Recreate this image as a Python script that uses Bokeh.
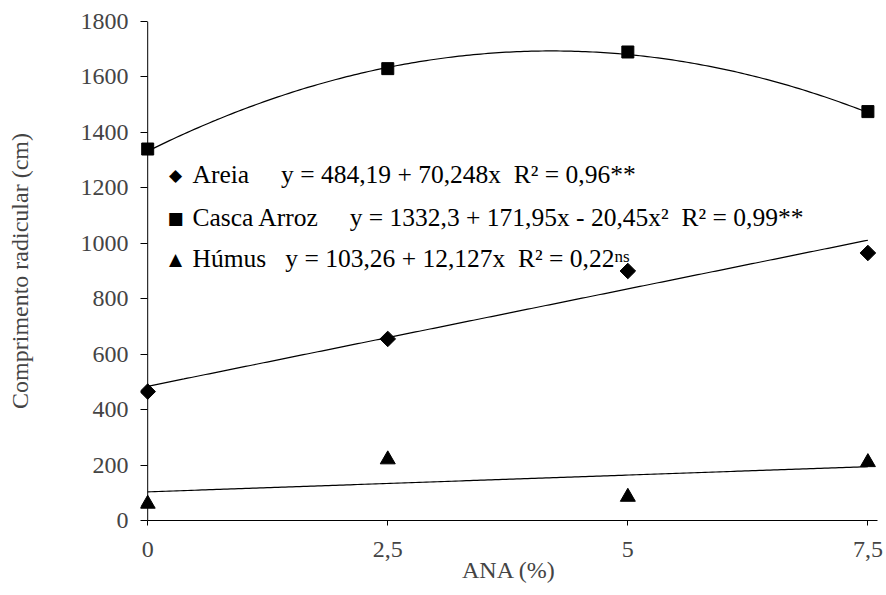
import numpy as np
from bokeh.plotting import figure
from bokeh.models import Range1d, FixedTicker, Span, Label
from bokeh.embed import file_html
from bokeh.resources import INLINE

# ---- data ----
ana_doses = [0, 2.5, 5, 7.5]
x_tick_labels = ["0", "2,5", "5", "7,5"]
y_ticks = [0, 200, 400, 600, 800, 1000, 1200, 1400, 1600, 1800]

areia = [465, 655, 900, 965]
casca_arroz = [1340, 1630, 1690, 1475]
humus = [60, 220, 85, 210]

# regression coefficients printed on the chart
areia_coef = [484.19, 70.248]
casca_coef = [1332.3, 171.95, -20.45]
humus_coef = [103.26, 12.127]

NB = "\u00a0"
legend_symbols = ["\u25c6", "\u25a0", "\u25b2"]
legend_texts = [
    "Areia" + NB * 5 + "y = 484,19 + 70,248x" + NB * 2 + "R² = 0,96**",
    "Casca Arroz" + NB * 5 + "y = 1332,3 + 171,95x - 20,45x²" + NB * 2 + "R² = 0,99**",
    "Húmus" + NB * 3 + "y = 103,26 + 12,127x" + NB * 2 + "R² = 0,22",
]

FONT = "Liberation Serif"

p = figure(width=886, height=595,
           x_range=Range1d(-0.075, 7.6), y_range=Range1d(0, 1800),
           output_backend="svg", toolbar_location=None,
           min_border_left=140, min_border_right=9,
           min_border_top=21, min_border_bottom=75)
p.grid.visible = False
p.outline_line_color = None

# x axis
xa = p.xaxis[0]
xa.ticker = FixedTicker(ticks=ana_doses)
xa.major_label_overrides = {t: s for t, s in zip(ana_doses, x_tick_labels)}
xa.minor_tick_line_color = None
xa.major_tick_out = 5
xa.major_tick_in = 0
xa.major_label_standoff = 16
xa.bounds = (0, 7.6)
xa.axis_label = "ANA (%)"
xa.axis_label_standoff = -3
xa.axis_label_text_font = FONT
xa.axis_label_text_font_style = "normal"
xa.axis_label_text_font_size = "24px"
xa.major_label_text_font = FONT
xa.major_label_text_font_size = "24px"
xa.axis_line_color = "black"
xa.major_tick_line_color = "black"

# y axis
ya = p.yaxis[0]
ya.ticker = FixedTicker(ticks=y_ticks)
ya.minor_tick_line_color = None
ya.axis_line_color = None
ya.major_tick_in = 7
ya.major_tick_out = 0
ya.major_label_standoff = 12
ya.axis_label = "Comprimento radicular (cm)"
ya.axis_label_standoff = 45
ya.axis_label_text_font = FONT
ya.axis_label_text_font_style = "normal"
ya.axis_label_text_font_size = "24px"
ya.major_label_text_font = FONT
ya.major_label_text_font_size = "24px"
ya.major_tick_line_color = "black"

p.add_layout(Span(location=0, dimension="height", line_color="black", line_width=1))

# trend lines from printed equations
xs = np.linspace(0, 7.5, 200)
p.line(xs, np.polyval(areia_coef[::-1], xs), line_color="black", line_width=1.2)
p.line(xs, np.polyval(casca_coef[::-1], xs), line_color="black", line_width=1.2)
p.line(xs, np.polyval(humus_coef[::-1], xs), line_color="black", line_width=1.2)

p.scatter(ana_doses, areia, marker="square", angle=np.pi / 4, size=11,
          fill_color="black", line_color="black")
p.scatter(ana_doses, casca_arroz, marker="square", size=12,
          fill_color="black", line_color="black")
p.scatter(ana_doses, humus, marker="triangle", size=15,
          fill_color="black", line_color="black")

# legend (symbols + equations)
row_y = [346, 303, 262]
for sym, txt, yy in zip(legend_symbols, legend_texts, row_y):
    p.add_layout(Label(x=35, y=yy, x_units="screen", y_units="screen", text=sym,
                       text_font="DejaVu Sans", text_font_size="17px", text_color="black",
                       text_align="center", text_baseline="middle"))
    p.add_layout(Label(x=52, y=yy, x_units="screen", y_units="screen", text=txt,
                       text_font=FONT, text_font_size="25.5px", text_color="black",
                       text_align="left", text_baseline="middle"))

p.add_layout(Label(x=474, y=264, x_units="screen", y_units="screen", text="ns",
                   text_font=FONT, text_font_size="17px", text_color="black",
                   text_baseline="alphabetic"))

open("out.html", "w").write(file_html(p, INLINE))
